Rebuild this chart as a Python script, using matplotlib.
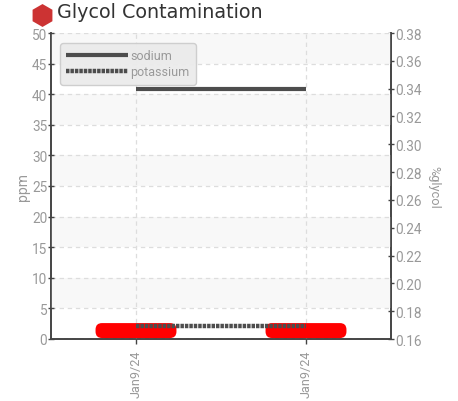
import matplotlib
matplotlib.use("Agg")
import matplotlib.pyplot as plt
from matplotlib.lines import Line2D
from matplotlib.patches import FancyBboxPatch

categories = ["Jan9/24", "Jan9/24"]
sodium = [40.9, 40.9]
potassium = [2.17, 2.17]
limit_low = [0.16, 0.16]
limit_high = [2.6, 2.6]
limit_half_width = 0.238
left_ticks = list(range(0, 55, 5))
right_ticks = [0.16, 0.18, 0.20, 0.22, 0.24, 0.26, 0.28, 0.30, 0.32, 0.34, 0.36, 0.38]
band_starts = [5, 15, 25, 35, 45]
band_height = 5
title = "Glycol Contamination"

narrow = "Roboto"
GREY = "#999999"
DARK = "#4d4d4d"

W, H = 458, 402
fig = plt.figure(figsize=(W / 100, H / 100), dpi=100)
ax = fig.add_axes([51 / W, 1 - 340 / H, 340 / W, 306 / H])
ax2 = ax.twinx()
ax.set_zorder(ax2.get_zorder() + 1)
ax.patch.set_visible(False)

ax.set_xlim(-0.5, 1.5)
ax.set_ylim(0, 50)
ax2.set_ylim(0.16, 0.38)

for b in band_starts:
    ax.axhspan(b, b + band_height, color="#f8f8f8", lw=0, zorder=0)

ax.set_yticks(left_ticks)
ax2.set_yticks(right_ticks)
ax2.set_yticklabels([f"{v:.2f}" for v in right_ticks])
xs = list(range(len(categories)))
ax.set_xticks(xs)
ax.set_xticklabels(categories, rotation=90)
ax.grid(True, color="#dddddd", ls=(0, (3.5, 3)), lw=0.9, zorder=1)
ax.set_axisbelow(True)

for x, lo, hi in zip(xs, limit_low, limit_high):
    # rounded bar: corner radius about 6 px in both directions
    ax.add_patch(FancyBboxPatch((x - limit_half_width, lo), 2 * limit_half_width, hi - lo,
                                boxstyle="round,pad=0,rounding_size=0.038",
                                mutation_aspect=170 / 6.12, fc="#ff0000", ec="none", zorder=3))
ax.plot(xs, sodium, color=DARK, lw=3, solid_capstyle="butt", zorder=4, label="sodium")
ax.plot(xs, potassium, color=DARK, lw=3.2, ls=(0, (0.78, 0.22)), dash_capstyle="butt",
        zorder=4, label="potassium")

for a in (ax, ax2):
    a.spines["top"].set_visible(False)
    for s in a.spines.values():
        s.set_color("#444444")
        s.set_linewidth(1.2)
ax.tick_params(axis="y", direction="inout", length=4.5, width=1, color="#444444",
               labelcolor=GREY, labelsize=9.8, pad=0.5)
ax.tick_params(axis="x", direction="out", length=3.5, width=1, color="#444444",
               labelcolor=GREY, labelsize=9.1, pad=4)
ax2.tick_params(axis="y", direction="inout", length=4.5, width=1, color="#444444",
                labelcolor=GREY, labelsize=9.8, pad=0.5)
for lab in ax.get_yticklabels() + ax2.get_yticklabels() + ax.get_xticklabels():
    lab.set_family(narrow)

fig.text(23 / W, 1 - 187 / H, "ppm", rotation=90, color=GREY, family=narrow,
         fontsize=10, ha="center", va="center")
fig.text(434 / W, 1 - 187 / H, "%glycol", rotation=270, color=GREY, family=narrow,
         fontsize=9.2, ha="center", va="center")

leg = ax.legend(loc="upper left", bbox_to_anchor=(9 / 340, 1 - 10 / 306), borderaxespad=0,
                frameon=True, fancybox=True, facecolor="#ebebeb", edgecolor="#cccccc",
                framealpha=0.95, prop={"family": narrow, "size": 9}, labelcolor=GREY,
                handlelength=4.9, handletextpad=0.22, labelspacing=0.25, borderpad=0.5)
leg.set_zorder(6)

fig.add_artist(Line2D([42 / W], [1 - 16 / H], marker="h", ms=16.5, color="#cc3333",
                      mew=0, ls="none", transform=fig.transFigure))
fig.text(57 / W, 1 - 12.5 / H, title, family="DejaVu Sans", fontsize=13.8, color="#333333",
         ha="left", va="center")

fig.savefig("out.png", dpi=100)
